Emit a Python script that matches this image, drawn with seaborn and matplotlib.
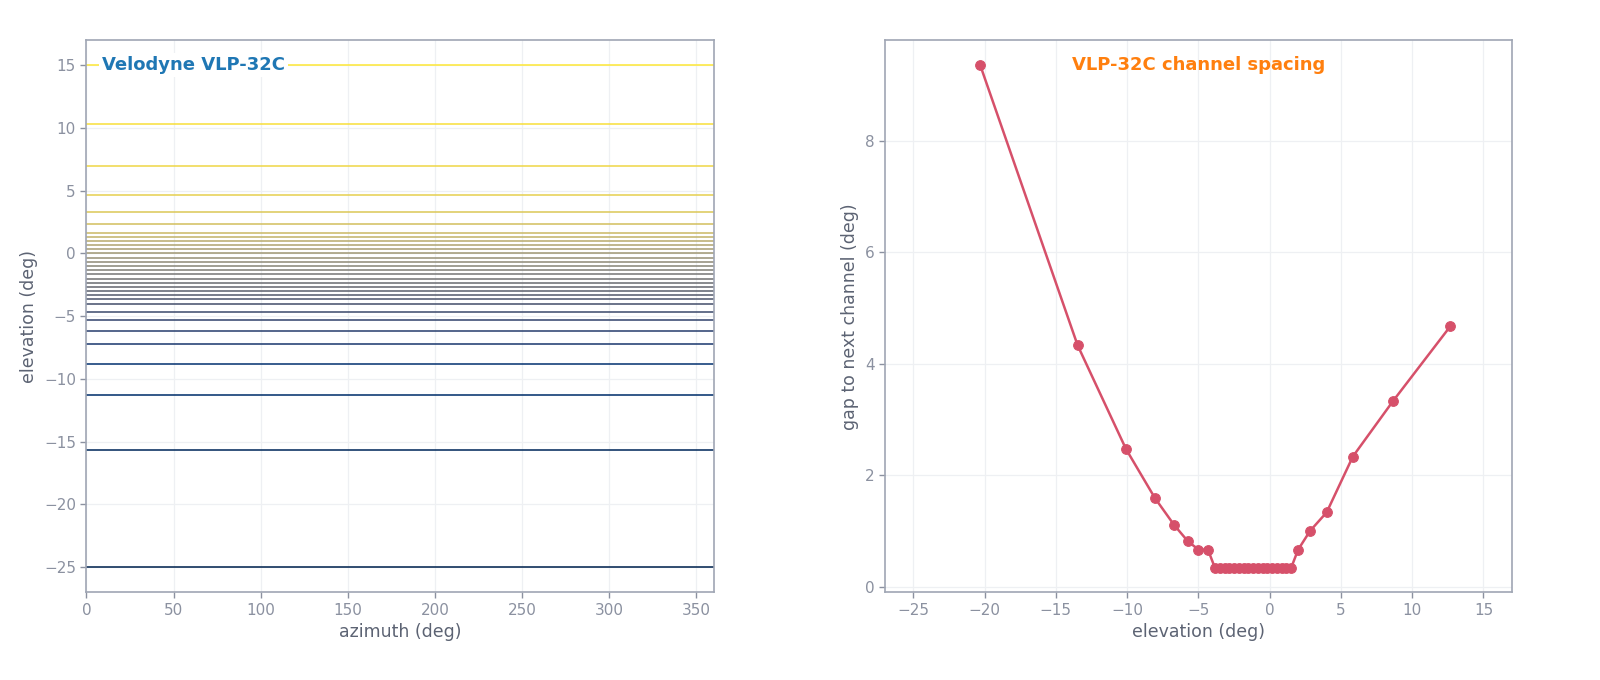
import numpy as np
import pandas as pd
import matplotlib
matplotlib.use("Agg")
import matplotlib.pyplot as plt
import seaborn as sns

sns.set_theme(style="white")
plt.rcParams['font.family'] = ['DejaVu Sans']

# VLP-32C vertical angles (deg), sorted low -> high
elevations = [-25.0, -15.639, -11.31, -8.843, -7.254, -6.148, -5.333, -4.667,
              -4.0, -3.667, -3.333, -3.0, -2.667, -2.333, -2.0, -1.667,
              -1.333, -1.0, -0.667, -0.333, 0.0, 0.333, 0.667, 1.0,
              1.333, 1.667, 2.333, 3.333, 4.667, 7.0, 10.333, 15.0]
azimuth_range = [0, 360]

elev = np.array(elevations)
gaps = np.diff(elev)
mids = (elev[:-1] + elev[1:]) / 2
df_gap = pd.DataFrame({'elevation (deg)': mids, 'gap to next channel (deg)': gaps})

spine_c = '#a0a6b4'
tick_c = '#8b91a0'
label_c = '#5c6373'
grid_c = '#eef0f3'

fig = plt.figure(figsize=(16, 6.8), dpi=100)
ax1 = fig.add_axes([0.054, 0.129, 0.392, 0.812])
ax2 = fig.add_axes([0.553, 0.129, 0.392, 0.812])

# left: one horizontal line per channel, coloured by channel rank
cmap = plt.get_cmap('cividis')
n = len(elevations)
for i, e in enumerate(elevations):
    sns.lineplot(x=azimuth_range, y=[e, e], ax=ax1, color=cmap(i / (n - 1)),
                 lw=1.4, alpha=0.8)
ax1.set_xlim(0, 360)
ax1.set_ylim(-27, 17)
ax1.set_xlabel('azimuth (deg)')
ax1.set_ylabel('elevation (deg)')
ax1.text(0.025, 0.955, 'Velodyne VLP-32C', transform=ax1.transAxes,
         color='#1f77b4', fontsize=13, fontweight='bold', va='center', ha='left',
         bbox=dict(facecolor='white', edgecolor='none', pad=2), zorder=5)

# right: spacing to next channel
sns.lineplot(data=df_gap, x='elevation (deg)', y='gap to next channel (deg)', ax=ax2,
             color='#d6506a', lw=1.8, marker='o', markersize=7,
             markeredgecolor='#d6506a')
ax2.set_xlim(-27, 17)
ax2.set_ylim(-0.1, 9.8)
ax2.set_xticks(range(-25, 20, 5))
ax2.set_yticks([0, 2, 4, 6, 8])
ax2.text(0.5, 0.955, 'VLP-32C channel spacing', transform=ax2.transAxes,
         color='#ff7f0e', fontsize=13, fontweight='bold', va='center', ha='center')

for ax in (ax1, ax2):
    ax.grid(True, color=grid_c, lw=0.9)
    ax.set_axisbelow(True)
    for s in ax.spines.values():
        s.set_color(spine_c)
        s.set_linewidth(1.2)
    ax.tick_params(colors=tick_c, labelsize=11, length=4, width=1, left=True, bottom=True)
    ax.tick_params(axis='both', labelcolor=tick_c)
    ax.xaxis.label.set_color(label_c)
    ax.yaxis.label.set_color(label_c)
    ax.xaxis.label.set_size(12.5)
    ax.yaxis.label.set_size(12.5)

fig.savefig('out.png', dpi=100)
